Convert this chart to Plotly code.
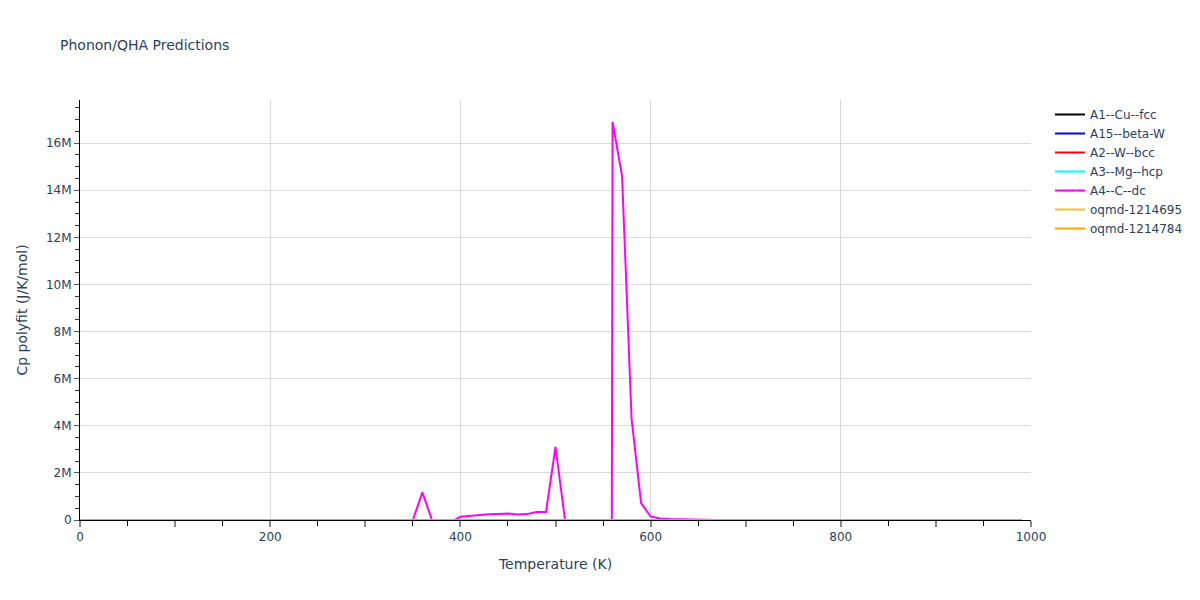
import plotly.graph_objects as go

# Temperatures (K) for the fine grid
temps = list(range(0, 1000, 10))

# A4--C--dc heat capacity (J/K/mol), one per 10 K
a4_cp = (
    [0] * 13                      # 0..120
    + [15000]                     # 130
    + [0] * 21                    # 140..340
    + [0, 1.17e6, 0.01e6, -0.1e6, -0.09e6]          # 350..390
    + [0.14e6, 0.18e6, 0.21e6, 0.24e6, 0.26e6,      # 400..440
       0.28e6, 0.23e6, 0.25e6, 0.34e6, 0.34e6]      # 450..490
    + [3.1e6, 0, -50e6, -100e6, -150e6, -200e6]     # 500..550
    + [16.9e6, 14.6e6, 4.3e6, 0.72e6, 0.15e6,       # 560..600
       0.06e6, 0.04e6, 0.03e6]                      # 610..630
    + [0] * 36                    # 640..990
)

# Coarse grid for the other (near-zero at this scale) series
temps_c = [0, 100, 200, 300, 400, 500, 600, 700, 800, 900, 990]
a1_cp = [0, 16, 22, 24, 25, 25.5, 26, 26.4, 26.8, 27.2, 27.6]
a15_cp = [0, 18, 23, 24.5, 25.2, 25.6, 26, 26.3, 26.6, 26.9, 27.2]
a2_cp = [0, 15, 21.5, 23.6, 24.4, 24.9, 25.3, 25.6, 25.9, 26.2, 26.5]
a3_cp = [0, 19, 23.5, 24.8, 25.5, 26, 26.4, 26.8, 27.2, 27.6, 28]
oq1_cp = [0, 17, 22.5, 24.2, 25, 25.4, 25.8, 26.1, 26.4, 26.7, 27]
oq2_cp = [0, 17.5, 22.8, 24.4, 25.1, 25.6, 26, 26.3, 26.6, 26.9, 27.2]

series_names = ["A1--Cu--fcc", "A15--beta-W", "A2--W--bcc", "A3--Mg--hcp",
                "A4--C--dc", "oqmd-1214695", "oqmd-1214784"]
series_colors = ["black", "blue", "red", "cyan", "magenta", "#F0C232", "orange"]

x_tick_labels = ["0", "", "200", "", "400", "", "600", "", "800", "", "1000"]

fig = go.Figure()
data = [
    (temps_c, a1_cp), (temps_c, a15_cp), (temps_c, a2_cp), (temps_c, a3_cp),
    (temps, a4_cp), (temps_c, oq1_cp), (temps_c, oq2_cp),
]
for (xs, ys), name, color in zip(data, series_names, series_colors):
    fig.add_trace(go.Scatter(x=xs, y=ys, mode="lines", name=name,
                             line=dict(color=color, width=2)))

# empty helper trace so the overlaid grid axis is drawn
fig.add_trace(go.Scatter(x=[], y=[], xaxis="x2", showlegend=False,
                         hoverinfo="skip"))

fig.update_layout(
    width=1200, height=600,
    template="plotly",
    font=dict(family="Verdana, DejaVu Sans, sans-serif", size=12),
    plot_bgcolor="white",
    paper_bgcolor="white",
    title=dict(text="Phonon/QHA Predictions", font=dict(size=14)),
    xaxis=dict(
        title=dict(text="Temperature (K)", font=dict(size=14)),
        range=[0, 1000],
        tickmode="array",
        tickvals=list(range(0, 1001, 100)),
        ticktext=x_tick_labels,
        showgrid=False,
        zeroline=False,
        showline=True, linecolor="black", linewidth=1,
        ticks="outside", tickcolor="#888", tickwidth=2, ticklen=6,
        minor=dict(dtick=50, ticks="outside", tickcolor="black", ticklen=5,
                   tickwidth=1, showgrid=False),
    ),
    xaxis2=dict(
        overlaying="x", anchor="y", range=[0, 1000],
        dtick=200, showgrid=True, gridcolor="#d9d9d9", gridwidth=1,
        showticklabels=False, ticks="", zeroline=False, showline=False,
    ),
    yaxis=dict(
        title=dict(text="Cp polyfit (J/K/mol)", font=dict(size=14)),
        range=[0, 17.83e6],
        dtick=2e6,
        showgrid=True, gridcolor="#d9d9d9", gridwidth=1,
        zeroline=False,
        showline=True, linecolor="black", linewidth=1,
        ticks="outside", tickcolor="#555", ticklen=5,
        minor=dict(dtick=0.5e6, ticks="outside", tickcolor="#333", ticklen=4,
                   showgrid=False),
    ),
    legend=dict(font=dict(size=12)),
)

fig.write_html("out.html",
               config={"displayModeBar": False},
               post_script="document.body.style.margin='0';")
